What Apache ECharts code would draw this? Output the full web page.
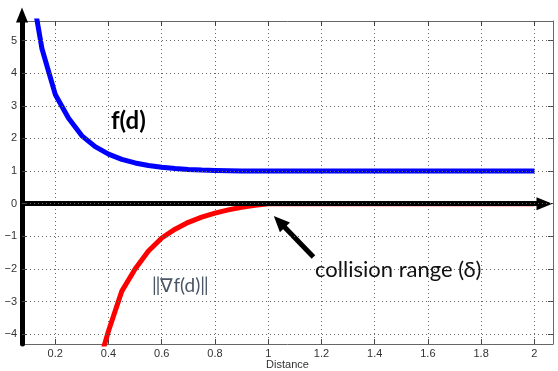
<!DOCTYPE html>
<html>
<head>
<meta charset="utf-8">
<script src="https://cdn.jsdelivr.net/npm/echarts@6/dist/echarts.min.js"></script>
<style>html,body{margin:0;padding:0;background:#fff}#c{width:558px;height:371px}</style>
</head>
<body>
<div id="c"></div>
<script>
var distance = [0.10,0.15,0.20,0.25,0.30,0.35,0.40,0.45,0.50,0.55,0.60,0.65,0.70,0.75,0.80,0.85,0.90,0.95,1.00,1.50,2.00];
var fValues = [7.1,4.75,3.35,2.62,2.08,1.75,1.52,1.36,1.25,1.17,1.12,1.08,1.05,1.03,1.02,1.01,1.00,1.00,1.00,1.00,1.00];
var gradValues = [null,null,null,null,null,-5.3,-3.9,-2.68,-2.0,-1.45,-1.05,-0.78,-0.57,-0.41,-0.29,-0.19,-0.11,-0.05,0,0,0];
var xTicks = [0.2,0.4,0.6,0.8,1,1.2,1.4,1.6,1.8,2];
var yTicks = [-4,-3,-2,-1,0,1,2,3,4,5];
var xRange = [0.075, 2.07];
var yRange = [-4.3, 5.6];
var zeroLine = [[0.075, 0], [2.038, 0]];
var pointerArrow = [[1.17, -1.63], [1.042, -0.55]];

function pairs(xs, ys) { return xs.map(function (x, i) { return [x, ys[i]]; }); }
function minus(v) { return String(v).replace('-', '\u2212'); }

var chart = echarts.init(document.getElementById('c'), null, {renderer: 'canvas'});
var labelStyle = {color: '#333', fontSize: 11, fontFamily: 'Liberation Sans, Arial, sans-serif'};
var gridLine = {show: true, lineStyle: {color: '#666', width: 1, type: [1, 3]}};

chart.setOption({
  animation: false,
  grid: {left: 22, right: 5, top: 21, bottom: 27, containLabel: false, outerBoundsMode: 'none'},
  xAxis: [{
    type: 'value', min: xRange[0], max: xRange[1], position: 'bottom',
    name: 'Distance', nameLocation: 'middle', nameGap: 15, nameMoveOverlap: false,
    nameTextStyle: {color: '#333', fontSize: 11, fontFamily: 'Liberation Sans, Arial, sans-serif', verticalAlign: 'top'},
    axisLine: {show: true, onZero: false, lineStyle: {color: '#666', width: 1}},
    axisTick: {show: true, inside: true, length: 5, customValues: xTicks, lineStyle: {color: '#444'}},
    axisLabel: Object.assign({customValues: xTicks, margin: 4, formatter: function (v) { return minus(v); }}, labelStyle),
    splitLine: gridLine
  }, {
    type: 'value', min: xRange[0], max: xRange[1], position: 'top',
    axisLine: {show: true, onZero: false, lineStyle: {color: '#666', width: 1}},
    axisTick: {show: true, inside: true, length: 5, customValues: xTicks, lineStyle: {color: '#444'}},
    axisLabel: {show: false},
    splitLine: {show: false}
  }],
  yAxis: [{
    type: 'value', min: yRange[0], max: yRange[1], position: 'left',
    axisLine: {show: true, onZero: false, lineStyle: {color: '#000', width: 5},
      symbol: ['none', 'triangle'], symbolSize: [12, 15], symbolOffset: [0, 6]},
    axisTick: {show: true, inside: true, length: 5, customValues: yTicks, lineStyle: {color: '#444'}},
    axisLabel: Object.assign({customValues: yTicks, margin: 5, formatter: function (v) { return minus(v); }}, labelStyle),
    splitLine: gridLine,
    z: 10
  }, {
    type: 'value', min: yRange[0], max: yRange[1], position: 'right',
    axisLine: {show: true, onZero: false, lineStyle: {color: '#666', width: 1}},
    axisTick: {show: true, inside: true, length: 5, customValues: yTicks, lineStyle: {color: '#444'}},
    axisLabel: {show: false},
    splitLine: {show: false}
  }],
  series: [{
    name: 'f(d)', type: 'line', data: pairs(distance, fValues),
    showSymbol: false, symbol: 'none', clip: true,
    lineStyle: {color: '#0000ff', width: 5}, z: 3
  }, {
    name: 'grad', type: 'line', data: pairs(distance, gradValues),
    showSymbol: false, symbol: 'none', clip: true, connectNulls: false,
    lineStyle: {color: '#ff0000', width: 5}, z: 3
  }, {
    name: 'annot', type: 'line', data: [], z: 6,
    markLine: {
      silent: true, animation: false,
      label: {show: false},
      emphasis: {disabled: true},
      data: [
        [{coord: zeroLine[0], symbol: 'none'}, {coord: zeroLine[1], symbol: 'triangle', symbolSize: [13, 16]}],
        [{coord: pointerArrow[0], symbol: 'none'}, {coord: pointerArrow[1], symbol: 'triangle', symbolSize: [14, 16]}]
      ],
      lineStyle: {color: '#000', width: 5, type: 'solid'}
    }
  }],
  graphic: [
    {type: 'text', left: 111, top: 109, z: 20, style: {text: 'f(d)', fill: '#000', font: 'bold 24px Lato, sans-serif'}},
    {type: 'text', left: 315, top: 259, z: 20, style: {text: 'collision range (\u03b4)', fill: '#111', font: '22px Lato, sans-serif'}},
    {type: 'text', left: 152, top: 276, z: 20, style: {text: '\u2016\u2207f(d)\u2016', fill: '#4a5565', font: '19px Lato, sans-serif'}}
  ]
});
</script>
</body>
</html>
